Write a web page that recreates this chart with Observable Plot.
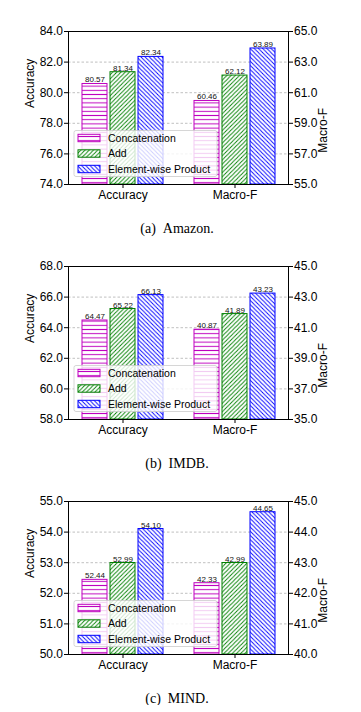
<!DOCTYPE html>
<html><head><meta charset="utf-8">
<script src="https://cdn.jsdelivr.net/npm/d3@7"></script>
<script src="https://cdn.jsdelivr.net/npm/@observablehq/plot@0.6"></script>
<style>
body{margin:0;background:#fff;width:361px;}
.cap{font-family:"Liberation Serif","Times New Roman",serif;font-size:14px;text-align:center;padding-top:8px;line-height:13px;height:13px;padding-right:7px;color:#000;white-space:pre;}
svg.plot{display:block;}
</style></head><body>
<svg width="0" height="0" style="position:absolute">
<defs>
<pattern id="hatchConcat" patternUnits="userSpaceOnUse" width="8" height="4.2">
<rect width="8" height="4.2" fill="#fff"/>
<line x1="0" y1="2.1" x2="8" y2="2.1" stroke="#bf00bf" stroke-width="1"/>
</pattern>
<pattern id="hatchAdd" patternUnits="userSpaceOnUse" width="4.2" height="4.2">
<rect width="4.2" height="4.2" fill="#fff"/>
<line x1="0" y1="4.2" x2="4.2" y2="0" stroke="#008000" stroke-width="0.9"/>
<line x1="-1" y1="1" x2="1" y2="-1" stroke="#008000" stroke-width="0.9"/>
<line x1="3.2" y1="5.2" x2="5.2" y2="3.2" stroke="#008000" stroke-width="0.9"/>
</pattern>
<pattern id="hatchProd" patternUnits="userSpaceOnUse" width="4.2" height="4.2">
<rect width="4.2" height="4.2" fill="#fff"/>
<line x1="0" y1="0" x2="4.2" y2="4.2" stroke="#0000ff" stroke-width="0.9"/>
<line x1="-1" y1="3.2" x2="1" y2="5.2" stroke="#0000ff" stroke-width="0.9"/>
<line x1="3.2" y1="-1" x2="5.2" y2="1" stroke="#0000ff" stroke-width="0.9"/>
</pattern>
</defs></svg>
<div id="charts"></div>
<script>
const methods = ["Concatenation", "Add", "Element-wise Product"];
const metrics = ["Accuracy", "Macro-F"];
const methodColors = ["#bf00bf", "#008000", "#0000ff"];
const methodPatterns = ["url(#hatchConcat)", "url(#hatchAdd)", "url(#hatchProd)"];

const amazonAccuracy = [80.57, 81.34, 82.34];
const amazonMacroF = [60.46, 62.12, 63.89];
const imdbAccuracy = [64.47, 65.22, 66.13];
const imdbMacroF = [40.87, 41.89, 43.23];
const mindAccuracy = [52.44, 52.99, 54.10];
const mindMacroF = [42.33, 42.99, 44.65];

const amazonAccTicks = [74, 76, 78, 80, 82, 84];
const amazonMFTicks = [55, 57, 59, 61, 63, 65];
const imdbAccTicks = [58, 60, 62, 64, 66, 68];
const imdbMFTicks = [35, 37, 39, 41, 43, 45];
const mindAccTicks = [50, 51, 52, 53, 54, 55];
const mindMFTicks = [40, 41, 42, 43, 44, 45];

const captions = ["(a)\u00a0\u00a0Amazon.", "(b)\u00a0\u00a0IMDB.", "(c)\u00a0\u00a0MIND."];

const FONT = '"Liberation Sans", Arial, Helvetica, sans-serif';

function panel(acc, mf, accTicks, mfTicks, caption) {
  const lo = accTicks[0], hi = accTicks[accTicks.length - 1];
  const rlo = mfTicks[0], rhi = mfTicks[mfTicks.length - 1];
  const toLeft = d3.scaleLinear([rlo, rhi], [lo, hi]);
  const rows = [];
  methods.forEach((m, i) => rows.push({key: "Accuracy|" + m, method: m, value: acc[i], yv: acc[i]}));
  methods.forEach((m, i) => rows.push({key: "Macro-F|" + m, method: m, value: mf[i], yv: toLeft(mf[i])}));
  const domain = [...methods.map(m => "Accuracy|" + m), "gap", ...methods.map(m => "Macro-F|" + m)];

  const bars = methods.map((m, i) => Plot.barY(rows.filter(d => d.method === m), {
    x: "key", y1: lo, y2: "yv", fill: methodPatterns[i], stroke: methodColors[i], strokeWidth: 1
  }));

  const svg = Plot.plot({
    width: 361, height: 214,
    marginLeft: 68, marginRight: 73, marginTop: 31, marginBottom: 30,
    x: {type: "band", domain, paddingInner: 0.12, paddingOuter: 0.38, axis: null},
    y: {domain: [lo, hi], axis: null},
    style: {fontFamily: FONT, fontSize: "12px", color: "#000", background: "transparent"},
    marks: [
      Plot.gridY(accTicks, {stroke: "#b0b0b0", strokeOpacity: 1, strokeDasharray: "2.5,2", strokeWidth: 0.8}),
      ...bars,
      Plot.text(rows, {x: "key", y: "yv", text: d => d.value.toFixed(2), dy: -1.5, lineAnchor: "bottom", fontSize: 8, fill: "#111"}),
      Plot.axisY(accTicks, {anchor: "left", tickSize: 4, tickPadding: 1.5, tickFormat: d => d.toFixed(1), label: null, fontSize: 12}),
      Plot.axisY(mfTicks.map(toLeft), {anchor: "right", tickSize: 4, tickPadding: 1.5, tickFormat: d => toLeft.invert(d).toFixed(1), label: null, fontSize: 12}),
      Plot.axisX([domain[1], domain[5]], {anchor: "bottom", tickSize: 4, tickPadding: 2, tickFormat: d => d.split("|")[0], label: null, fontSize: 12}),
      Plot.frame({stroke: "#000", strokeWidth: 1}),
      Plot.text(["Accuracy"], {text: d => d, frameAnchor: "left", dx: -38, rotate: -90, fontSize: 12}),
      Plot.text(["Macro-F"], {text: d => d, frameAnchor: "right", dx: 35, rotate: -90, fontSize: 12})
    ]
  });

  // legend inside the plot area (lower left)
  const g = d3.select(svg).append("g").attr("font-family", FONT).attr("text-anchor", "start");
  g.append("rect").attr("x", 74).attr("y", 130.5).attr("width", 143).attr("height", 46).attr("rx", 2)
    .attr("fill", "#fff").attr("fill-opacity", 0.8).attr("stroke", "#cccccc").attr("stroke-width", 0.8);
  methods.forEach((m, i) => {
    const yc = 138 + i * 15.5;
    g.append("rect").attr("x", 78).attr("y", yc - 3.7).attr("width", 22).attr("height", 7.4)
      .attr("fill", methodPatterns[i]).attr("stroke", methodColors[i]).attr("stroke-width", 1);
    g.append("text").attr("x", 108).attr("y", yc).attr("dy", "0.35em").attr("text-anchor", "start")
      .attr("font-size", 10.5).attr("fill", "#000").text(m);
  });

  const wrap = document.createElement("div");
  wrap.appendChild(svg);
  const cap = document.createElement("div");
  cap.className = "cap";
  cap.textContent = caption;
  wrap.appendChild(cap);
  document.getElementById("charts").appendChild(wrap);
}

panel(amazonAccuracy, amazonMacroF, amazonAccTicks, amazonMFTicks, captions[0]);
panel(imdbAccuracy, imdbMacroF, imdbAccTicks, imdbMFTicks, captions[1]);
panel(mindAccuracy, mindMacroF, mindAccTicks, mindMFTicks, captions[2]);
</script>
</body></html>
